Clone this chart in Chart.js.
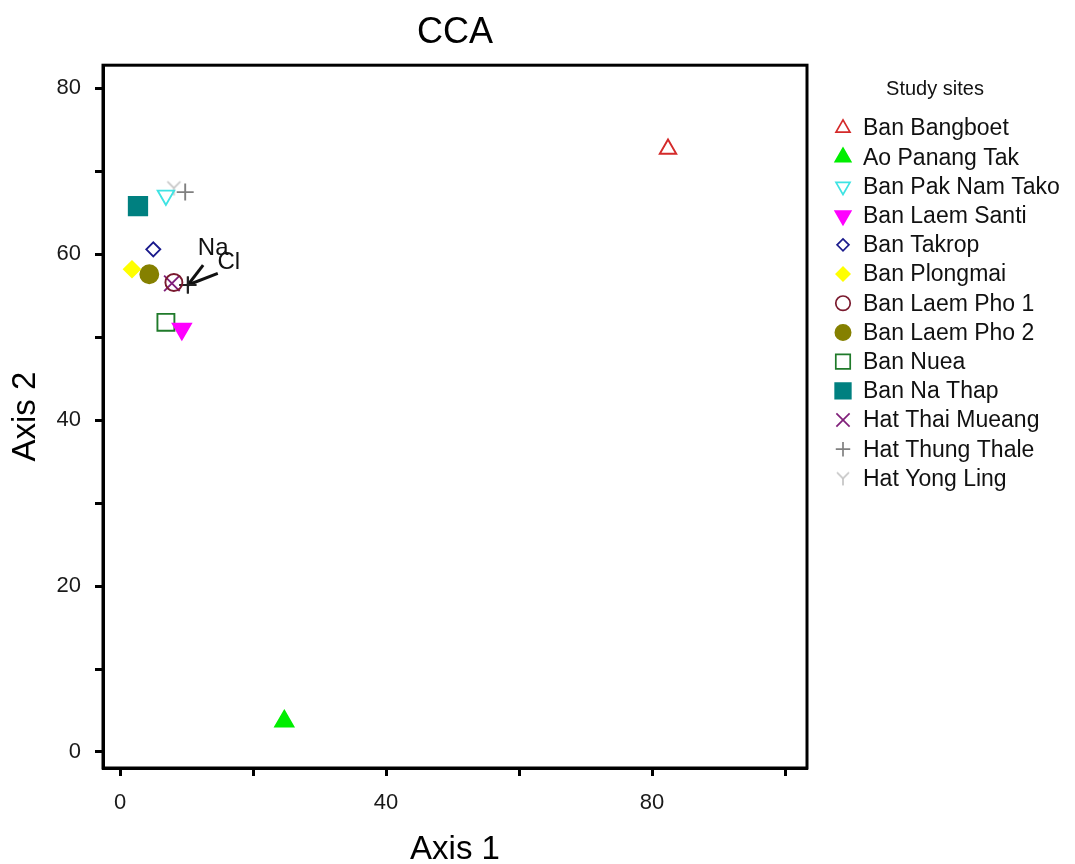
<!DOCTYPE html>
<html>
<head>
<meta charset="utf-8">
<title>CCA</title>
<script src="https://cdn.jsdelivr.net/npm/chart.js@4.4.1/dist/chart.umd.min.js"></script>
<style>
    html, body { margin: 0; padding: 0; background: #ffffff; }
    #wrap { width: 1075px; height: 864px; }
</style>
</head>
<body>
<div id="wrap"><canvas id="cca" width="1075" height="864"></canvas></div>
<script>
// site scores
const siteNames = [
    'Ban Bangboet', 'Ao Panang Tak', 'Ban Pak Nam Tako', 'Ban Laem Santi',
    'Ban Takrop', 'Ban Plongmai', 'Ban Laem Pho 1', 'Ban Laem Pho 2',
    'Ban Nuea', 'Ban Na Thap', 'Hat Thai Mueang', 'Hat Thung Thale', 'Hat Yong Ling',
];
const axis1Scores = [82.4, 24.7, 6.9, 9.3, 5.0, 1.8, 8.1, 4.4, 6.9, 2.7, 7.8, 9.8, 8.1];
const axis2Scores = [72.7, 3.7, 67.1, 51.0, 60.6, 58.2, 56.6, 57.6, 51.8, 65.8, 56.5, 67.5, 68.0];

// biplot vectors (environmental variables)
const vectorNames = ['Na', 'Cl'];
const vectorAxis1 = [12.5, 14.7];
const vectorAxis2 = [58.7, 57.7];
const centroidAxis1 = 10.2;
const centroidAxis2 = 56.3;

const xTickValues = [0, 20, 40, 60, 80, 100];
const yTickValues = [0, 10, 20, 30, 40, 50, 60, 70, 80];

const fontFamily = '"Liberation Sans", Arial, Helvetica, sans-serif';

const makeYMarker = (size, color) => {
    const c = document.createElement('canvas');
    c.width = size;
    c.height = size;
    const g = c.getContext('2d');
    const m = size / 2;
    g.strokeStyle = color;
    g.lineWidth = 1.7;
    g.beginPath();
    g.moveTo(2, 2);
    g.lineTo(m, m);
    g.lineTo(size - 2, 2);
    g.moveTo(m, m);
    g.lineTo(m, size - 1);
    g.stroke();
    return c;
};

const yMarker = makeYMarker(17, '#c4c4c4');
const yMarkerSmall = makeYMarker(16, '#c4c4c4');

// marker style per site: [pointStyle, rotation, radius, fill, stroke]
const siteMarkers = [
    ['triangle', 0, 9.5, 'rgba(0,0,0,0)', '#d42a2a'],
    ['triangle', 0, 10.5, '#00ee00', '#00ee00'],
    ['triangle', 180, 9.5, 'rgba(0,0,0,0)', '#3fe3e3'],
    ['triangle', 180, 10.5, '#ff00ff', '#ff00ff'],
    ['rectRot', 0, 7, 'rgba(0,0,0,0)', '#1a1a8c'],
    ['rectRot', 0, 8, '#ffff00', '#ffff00'],
    ['circle', 0, 8.5, 'rgba(0,0,0,0)', '#7a1a2e'],
    ['circle', 0, 9, '#858000', '#858000'],
    ['rect', 0, 12, 'rgba(0,0,0,0)', '#1f7a2a'],
    ['rect', 0, 13, '#008080', '#008080'],
    ['crossRot', 0, 11, 'rgba(0,0,0,0)', '#80207a'],
    ['cross', 0, 8.5, 'rgba(0,0,0,0)', '#808080'],
    [yMarker, 0, 8.5, 'rgba(0,0,0,0)', '#c4c4c4'],
];

const siteDatasets = siteNames.map((name, i) => {
    const [style, rotation, radius, fill, stroke] = siteMarkers[i];
    return {
        label: name,
        site: true,
        data: [{ x: axis1Scores[i], y: axis2Scores[i] }],
        pointStyle: style,
        rotation: rotation,
        radius: radius,
        hoverRadius: radius,
        backgroundColor: fill,
        borderColor: stroke,
        borderWidth: 1.9,
    };
});

const vectorDatasets = vectorNames.map((name, i) => ({
    label: name,
    site: false,
    showLine: true,
    data: [
        { x: centroidAxis1, y: centroidAxis2 },
        { x: vectorAxis1[i], y: vectorAxis2[i] },
    ],
    borderColor: '#111111',
    borderWidth: 3,
    pointStyle: 'cross',
    radius: [8.5, 0],
    pointBorderColor: '#222222',
    pointBorderWidth: 2,
}));

const labelOffsets = [[10, -17], [11, -11]];

const frameBox = {
    id: 'frameBox',
    afterDatasetsDraw(chart) {
        const { ctx, chartArea } = chart;
        ctx.save();
        ctx.strokeStyle = '#000000';
        ctx.lineWidth = 3;
        ctx.strokeRect(chartArea.left, chartArea.top, chartArea.right - chartArea.left, chartArea.bottom - chartArea.top);
        ctx.restore();
    },
};

const vectorLabels = {
    id: 'vectorLabels',
    afterDatasetsDraw(chart) {
        const { ctx, scales } = chart;
        ctx.save();
        ctx.fillStyle = '#111111';
        ctx.font = `24px ${fontFamily}`;
        ctx.textAlign = 'center';
        ctx.textBaseline = 'middle';
        vectorNames.forEach((name, i) => {
            const px = scales.x.getPixelForValue(vectorAxis1[i]);
            const py = scales.y.getPixelForValue(vectorAxis2[i]);
            ctx.fillText(name, px + labelOffsets[i][0], py + labelOffsets[i][1]);
        });
        ctx.restore();
    },
};

const siteLegend = {
    id: 'siteLegend',
    afterDraw(chart) {
        const { ctx } = chart;
        const left = chart.chartArea.right + 36;
        ctx.save();
        ctx.fillStyle = '#111111';
        ctx.textBaseline = 'middle';
        ctx.textAlign = 'center';
        ctx.font = `20px ${fontFamily}`;
        ctx.fillText('Study sites', left + 92, 89);
        ctx.textAlign = 'left';
        ctx.font = `23px ${fontFamily}`;
        let row = 0;
        chart.data.datasets.forEach((ds) => {
            if (!ds.site) {
                return;
            }
            const y = 128 + row * 29.2;
            const style = ds.pointStyle === yMarker ? yMarkerSmall : ds.pointStyle;
            ctx.save();
            ctx.fillStyle = ds.backgroundColor;
            ctx.strokeStyle = ds.borderColor;
            ctx.lineWidth = 1.7;
            Chart.helpers.drawPoint(ctx, {
                pointStyle: style,
                rotation: ds.rotation,
                radius: ds.radius * 0.85,
                borderWidth: 1.7,
            }, left, y);
            ctx.restore();
            ctx.fillText(ds.label, left + 20, y + 1);
            row += 1;
        });
        ctx.restore();
    },
};

const tickFont = { size: 22, family: fontFamily };
const titleFont = { size: 33, family: fontFamily, lineHeight: 1 };

new Chart(document.getElementById('cca'), {
    type: 'scatter',
    data: { datasets: [...siteDatasets, ...vectorDatasets] },
    options: {
        responsive: false,
        animation: false,
        layout: { padding: { left: 0, right: 268, top: 0, bottom: 0 } },
        plugins: {
            legend: { display: false },
            tooltip: { enabled: false },
            title: {
                display: true,
                text: 'CCA',
                fullSize: false,
                color: '#000000',
                font: { size: 36, family: fontFamily, weight: 'normal', lineHeight: 1.2 },
                padding: { top: 11, bottom: 11 },
            },
        },
        scales: {
            x: {
                type: 'linear',
                min: -2.56,
                max: 103.3,
                afterBuildTicks: (scale) => {
                    scale.ticks = xTickValues.map((v) => ({ value: v }));
                },
                afterFit: (scale) => {
                    scale.height = 96;
                },
                grid: {
                    drawOnChartArea: false,
                    drawTicks: true,
                    tickLength: 8,
                    tickWidth: 3,
                    tickColor: '#000000',
                },
                border: { display: true, color: '#000000', width: 3 },
                ticks: {
                    autoSkip: false,
                    maxRotation: 0,
                    padding: 14,
                    color: '#1a1a1a',
                    font: tickFont,
                    callback: (v) => (v % 40 === 0 ? v : ''),
                },
                title: {
                    display: true,
                    text: 'Axis 1',
                    color: '#000000',
                    font: titleFont,
                    padding: { top: 0, bottom: -2 },
                },
            },
            y: {
                type: 'linear',
                min: -1.93,
                max: 82.8,
                afterBuildTicks: (scale) => {
                    scale.ticks = yTickValues.map((v) => ({ value: v }));
                },
                afterFit: (scale) => {
                    scale.width = 103;
                },
                grid: {
                    drawOnChartArea: false,
                    drawTicks: true,
                    tickLength: 8,
                    tickWidth: 3,
                    tickColor: '#000000',
                },
                border: { display: true, color: '#000000', width: 3 },
                ticks: {
                    autoSkip: false,
                    padding: 14,
                    color: '#1a1a1a',
                    font: tickFont,
                    callback: (v) => (v % 20 === 0 ? v : ''),
                },
                title: {
                    display: true,
                    text: 'Axis 2',
                    color: '#000000',
                    font: titleFont,
                    padding: { top: 9, bottom: 0 },
                },
            },
        },
    },
    plugins: [frameBox, vectorLabels, siteLegend],
});
</script>
</body>
</html>
